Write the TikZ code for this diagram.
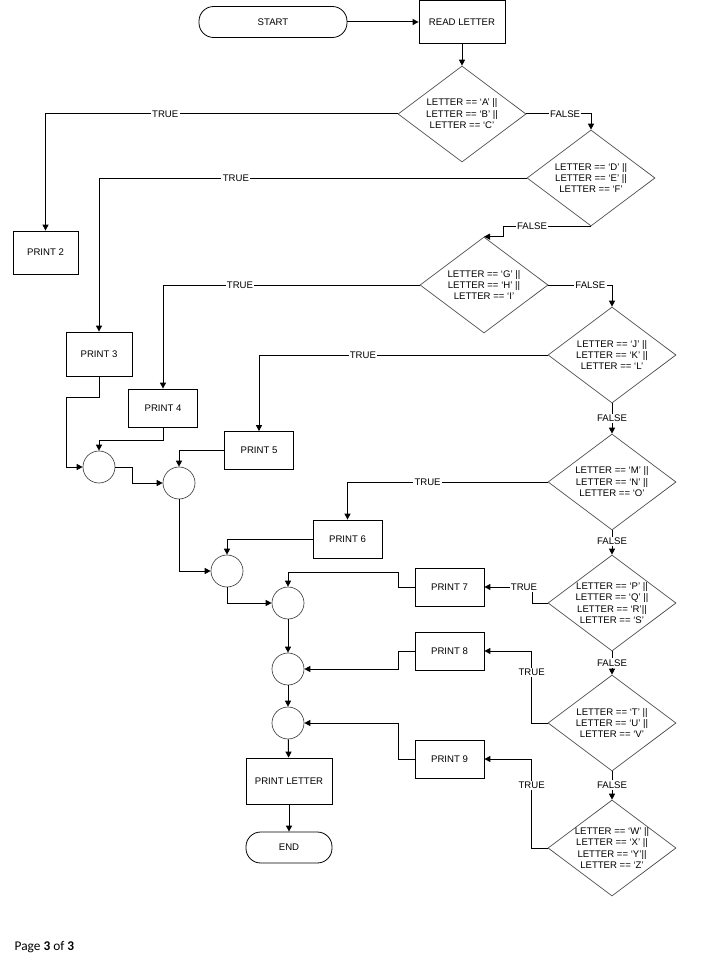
\documentclass[tikz,border=0pt]{standalone}
\usepackage{fontspec}
\setmainfont{Liberation Sans}
\newfontfamily\pagefont{Carlito}
\usetikzlibrary{arrows.meta,shapes.geometric}

\begin{document}
\begin{tikzpicture}[
    x=0.75pt, y=-0.75pt,
    font=\fontsize{7.2}{8.6}\selectfont,
    box/.style={draw, minimum width=51.75pt, minimum height=28.5pt, align=center, line width=0.6pt},
    term/.style={draw, rounded corners=11pt, minimum height=23.25pt, align=center, line width=0.6pt},
    dec/.style={draw=black!75, diamond, minimum width=96pt, minimum height=72pt, inner sep=0pt, line width=0.5pt},
    txt/.style={align=center, inner sep=0pt},
    mrg/.style={draw=black!75, circle, minimum size=24pt, inner sep=0pt, line width=0.5pt},
    lbl/.style={fill=white, inner sep=1pt},
    arr/.style={-{Triangle[length=4.5pt,width=4.5pt]}, line width=0.75pt}
  ]
    \useasboundingbox (0,0) rectangle (704,970);

    % start / read
    \node[term, minimum width=111pt] (start) at (273,22) {START};
    \node[box, minimum width=64.5pt, minimum height=32.25pt] (read) at (462,22) {READ LETTER};

    % decisions
    \node[dec, label={[txt]center:{LETTER == `A' ||\\LETTER == `B' ||\\LETTER == `C'}}] (d1) at (462,114) {};
    \node[dec, label={[txt]center:{LETTER == `D' ||\\LETTER == `E' ||\\LETTER == `F'}}] (d2) at (591,178) {};
    \node[dec, label={[txt]center:{LETTER == `G' ||\\LETTER == `H' ||\\LETTER == `I'}}] (d3) at (484,285) {};
    \node[dec, label={[txt]center:{LETTER == `J' ||\\LETTER == `K' ||\\LETTER == `L'}}] (d4) at (612,355) {};
    \node[dec, label={[txt]center:{LETTER == `M' ||\\LETTER == `N' ||\\LETTER == `O'}}] (d5) at (612,482) {};
    \node[dec, label={[txt]center:{LETTER == `P' ||\\LETTER == `Q' ||\\LETTER == `R'||\\LETTER == `S'}}] (d6) at (612,603) {};
    \node[dec, label={[txt]center:{LETTER == `T' ||\\LETTER == `U' ||\\LETTER == `V'}}] (d7) at (612,723) {};
    \node[dec, label={[txt]center:{LETTER == `W' ||\\LETTER == `X' ||\\LETTER == `Y'||\\LETTER == `Z'}}] (d8) at (612,848) {};

    % prints
    \node[box, minimum width=48.75pt, minimum height=32.25pt] (p2) at (45.5,252.5) {PRINT 2};
    \node[box, minimum width=49.5pt, minimum height=33pt] (p3) at (99,354) {PRINT 3};
    \node[box] (p4) at (163,408) {PRINT 4};
    \node[box] (p5) at (259,450.5) {PRINT 5};
    \node[box] (p6) at (347.5,539) {PRINT 6};
    \node[box] (p7) at (449.5,587) {PRINT 7};
    \node[box] (p8) at (449.5,651) {PRINT 8};
    \node[box] (p9) at (449.5,759) {PRINT 9};

    % merge points
    \node[mrg] (m1) at (99,467) {};
    \node[mrg] (m2) at (179,483) {};
    \node[mrg] (m3) at (227,571) {};
    \node[mrg] (m4) at (288,603) {};
    \node[mrg] (m5) at (288,669) {};
    \node[mrg] (m6) at (288,723) {};

    \node[box, minimum width=64.5pt, minimum height=34.5pt] (pl) at (289,781) {PRINT LETTER};
    \node[term, minimum width=64.5pt] (stop) at (289,847.5) {END};

    \node[anchor=west, font=\pagefont\fontsize{10}{12}\selectfont] (page) at (10,947) {Page \textbf{3} of \textbf{3}};

    % flow
    \draw[arr] (start) -- (read);
    \draw[arr] (read) -- (d1);
    \draw[arr] (d1.west) -| node[lbl, pos=0.33]{TRUE} (p2.north);
    \draw[arr] (d1.east) -| node[lbl, pos=0.3]{FALSE} (d2.north);
    \draw[arr] (d2.west) -| node[lbl, pos=0.34]{TRUE} (p3.north);
    \draw[arr] (d2.south) -- node[lbl, pos=0.67]{FALSE} ++(-88,0) |- (d3.north);
    \draw[arr] (d3.west) -| node[lbl, pos=0.35]{TRUE} (p4.north);
    \draw[arr] (d3.east) -| node[lbl, pos=0.33]{FALSE} (d4.north);
    \draw[arr] (d4.west) -| node[lbl, pos=0.32]{TRUE} (p5.north);
    \draw[arr] (d4.south) -- node[lbl]{FALSE} (d5.north);
    \draw[arr] (d5.west) -| node[lbl, pos=0.3]{TRUE} (p6.north);
    \draw[arr] (d5.south) -- node[lbl, pos=0.46]{FALSE} (d6.north);
    \draw[arr] (d6.west) -- ++(-15,0) |- node[lbl, pos=0.59]{TRUE} (p7.east);
    \draw[arr] (d6.south) -- node[lbl]{FALSE} (d7.north);
    \draw[arr] (d7.west) -- ++(-16,0) |- node[lbl, pos=0.35]{TRUE} (p8.east);
    \draw[arr] (d7.south) -- node[lbl, pos=0.48]{FALSE} (d8.north);
    \draw[arr] (d8.west) -- ++(-16,0) |- node[lbl, pos=0.35]{TRUE} (p9.east);

    % joining
    \draw[arr] (p3.south) -- ++(0,21) -- ++(-33,0) |- (m1.west);
    \draw[arr] (p4.south) -- ++(0,13) -| (m1.north);
    \draw[arr] (m1.east) -- ++(17,0) |- (m2.west);
    \draw[arr] (p5.west) -| (m2.north);
    \draw[arr] (m2.south) |- (m3.west);
    \draw[arr] (p6.west) -| (m3.north);
    \draw[arr] (m3.south) |- (m4.west);
    \draw[arr] (p7.west) -- ++(-16,0) -- ++(0,-15) -| (m4.north);
    \draw[arr] (m4) -- (m5);
    \draw[arr] (p8.west) -- ++(-16,0) |- (m5.east);
    \draw[arr] (m5) -- (m6);
    \draw[arr] (p9.west) -- ++(-16,0) |- (m6.east);
    \draw[arr] (m6) -- (pl);
    \draw[arr] (pl) -- (stop);
  \end{tikzpicture}
\end{document}
